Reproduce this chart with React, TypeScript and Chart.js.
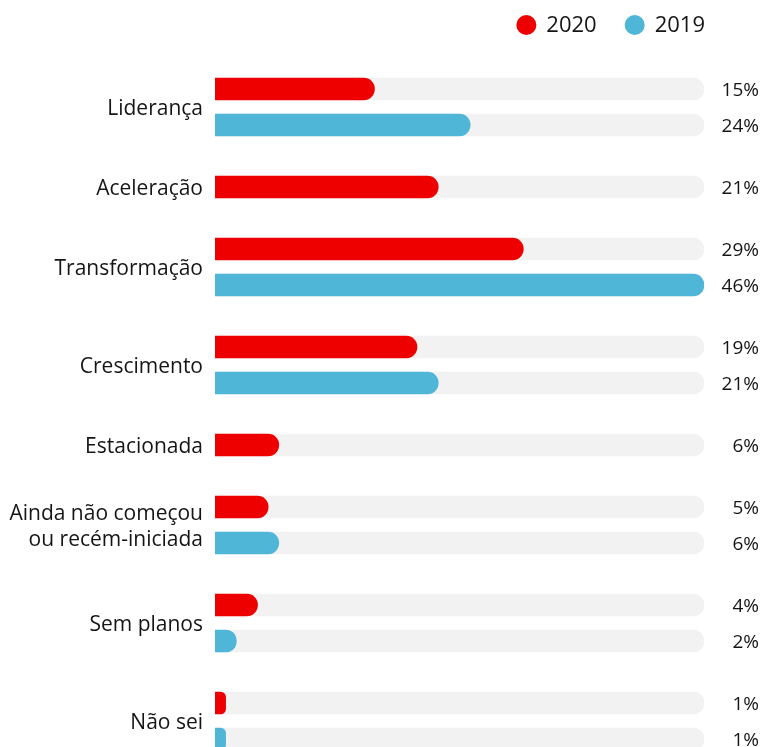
import React, { useEffect, useRef } from "react";
import { Chart, registerables } from "chart.js";

Chart.register(...registerables);

const categories: (string | string[])[] = [
  "Liderança",
  "Aceleração",
  "Transformação",
  "Crescimento",
  "Estacionada",
  ["Ainda não começou", "ou recém-iniciada"],
  "Sem planos",
  "Não sei",
];
const seriesLabels = ["2020", "2019"];
const values2020: (number | null)[] = [15, 21, 29, 19, 6, 5, 4, 1];
const values2019: (number | null)[] = [24, null, 46, 21, null, 6, 2, 1];
const xMax = 46;

const COLORS = ["#ee0000", "#4fb6d8"];
const TRACK = "#f2f2f2";
const TEXT = "#151515";
const FONT = "'Open Sans', 'Noto Sans', sans-serif";

const IN_GAP = 36;
const OUT_GAP = 62;

function buildRows() {
  const rows: { pos: number; series: number; value: number }[] = [];
  const centers: number[] = [];
  let pos = 0;
  let first = true;
  categories.forEach((_, ci) => {
    const vals = [values2020[ci], values2019[ci]];
    const inGroup: number[] = [];
    vals.forEach((v, si) => {
      if (v === null || v === undefined) return;
      if (!first) pos += inGroup.length ? IN_GAP : OUT_GAP;
      first = false;
      rows.push({ pos, series: si, value: v });
      inGroup.push(pos);
    });
    centers.push((inGroup[0] + inGroup[inGroup.length - 1]) / 2);
  });
  return { rows, centers };
}

export default function App() {
  const ref = useRef<HTMLCanvasElement>(null);
  useEffect(() => {
    const { rows, centers } = buildRows();
    const seriesData = [0, 1].map((si) =>
      rows.filter((r) => r.series === si).map((r) => ({ x: r.value, y: r.pos }))
    );
    const trackData = rows.map((r) => ({ x: xMax, y: r.pos }));

    const valuePlugin = {
      id: "valueLabels",
      afterDatasetsDraw(chart: any) {
        const ctx = chart.ctx;
        ctx.save();
        ctx.font = `19px ${FONT}`;
        ctx.fillStyle = TEXT;
        ctx.textAlign = "right";
        ctx.textBaseline = "middle";
        chart.data.datasets.forEach((ds: any, i: number) => {
          if (ds.isTrack) return;
          const meta = chart.getDatasetMeta(i);
          meta.data.forEach((el: any, j: number) => {
            ctx.fillText(ds.data[j].x + "%", chart.width - 4, el.y + 2);
          });
        });
        ctx.restore();
      },
    };

    const legendPlugin = {
      id: "customLegend",
      afterDraw(chart: any) {
        const ctx = chart.ctx;
        ctx.save();
        ctx.font = `22px ${FONT}`;
        ctx.textBaseline = "middle";
        ctx.textAlign = "left";
        const items = chart.data.datasets.filter((d: any) => !d.isTrack);
        const r = 10;
        const gapText = 10;
        const gapItem = 28;
        const y = 25;
        const widths = items.map((d: any) => 2 * r + gapText + ctx.measureText(d.label).width);
        const total = widths.reduce((a: number, b: number) => a + b, 0) + gapItem * (items.length - 1);
        let x = chart.chartArea.right + 1 - total;
        items.forEach((d: any, i: number) => {
          ctx.fillStyle = d.backgroundColor;
          ctx.beginPath();
          ctx.arc(x + r, y, r, 0, Math.PI * 2);
          ctx.fill();
          ctx.fillStyle = TEXT;
          ctx.fillText(d.label, x + 2 * r + gapText, y + 1);
          x += widths[i] + gapItem;
        });
        ctx.restore();
      },
    };

    const chart = new Chart(ref.current!, {
      type: "bar",
      data: {
        datasets: [
          { label: seriesLabels[0], data: seriesData[0], backgroundColor: COLORS[0], order: 1 } as any,
          { label: seriesLabels[1], data: seriesData[1], backgroundColor: COLORS[1], order: 1 } as any,
          { label: "track", isTrack: true, data: trackData, backgroundColor: TRACK, order: 2 } as any,
        ],
      },
      options: {
        indexAxis: "y",
        animation: false,
        responsive: true,
        maintainAspectRatio: false,
        datasets: {
          bar: { barThickness: 22, grouped: false, borderRadius: 11, borderSkipped: "start" } as any,
        },
        layout: { padding: { top: 60, bottom: 11, right: 59, left: 0 } },
        plugins: { legend: { display: false }, tooltip: { enabled: false } },
        scales: {
          x: { type: "linear", min: 0, max: xMax, display: false },
          y: {
            type: "linear",
            reverse: true,
            offset: false,
            min: -29,
            max: 666,
            grid: { display: false, drawTicks: false },
            border: { display: false },
            afterBuildTicks: (scale: any) => {
              scale.ticks = centers.map((v) => ({ value: v }));
            },
            afterFit: (scale: any) => {
              scale.width = 215;
            },
            ticks: {
              autoSkip: false,
              padding: 12,
              labelOffset: 2,
              color: TEXT,
              font: { family: FONT, size: 21, lineHeight: 1.24 },
              callback: (_v: any, i: number) => categories[i] as any,
            },
          },
        },
      },
      plugins: [valuePlugin, legendPlugin],
    });
    return () => chart.destroy();
  }, []);

  return (
    <div style={{ position: "fixed", left: 0, top: 0, width: 763, height: 747, overflow: "hidden", background: "#fff" }}>
      <div style={{ position: "relative", width: 763, height: 780 }}>
        <canvas ref={ref} />
      </div>
    </div>
  );
}
